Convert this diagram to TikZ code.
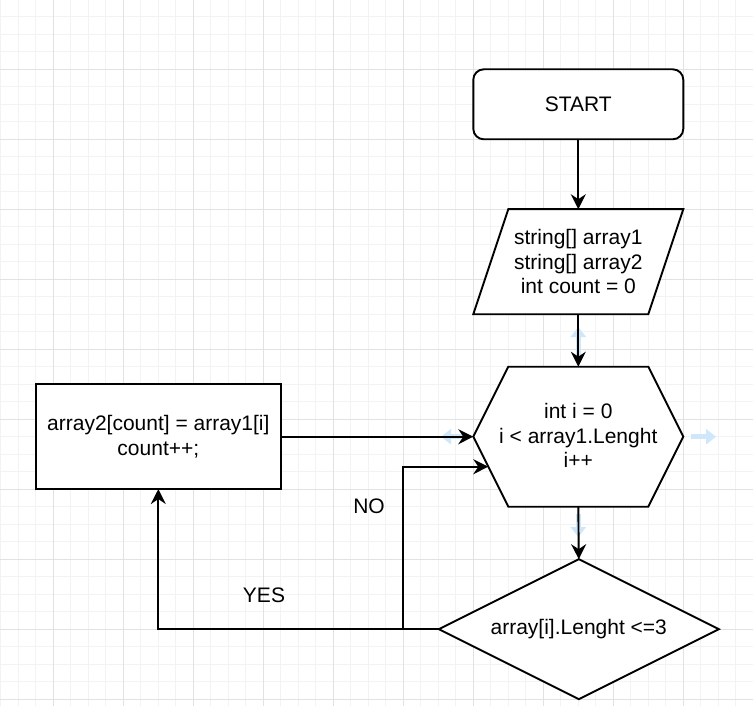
\documentclass[tikz,border=0pt]{standalone}
\usepackage{fontspec}
\setmainfont{Liberation Sans}
\usetikzlibrary{arrows.meta,calc}
\definecolor{gridminor}{RGB}{243,243,243}
\definecolor{gridmajor}{RGB}{226,226,226}
\definecolor{hover}{RGB}{206,232,250}
\begin{document}
\begin{tikzpicture}[x=1pt,y=-1pt,
  txt/.style={font=\fontsize{21}{24.5}\selectfont, align=center, inner sep=0pt, outer sep=0pt},
  shapeline/.style={line width=1.9pt, black},
  boxnode/.style={txt, draw, line width=1.9pt},
  ghost/.style={txt, draw=none},
  conn/.style={line width=1.9pt, black, -{Stealth[length=15pt,width=15pt,inset=5pt]}},
  hoverarrow/.style={line width=5pt, hover, -{Triangle[length=10pt,width=15pt]}},
  lbl/.style={txt}
]
\useasboundingbox (0,0) rectangle (753,706);
\fill[white] (0,0) rectangle (753,706);
% grid
\foreach \i in {0,...,43} \draw[gridminor, line width=1pt] ({0.8+17.5*\i},0) -- ++(0,706);
\foreach \j in {0,...,41} \draw[gridminor, line width=1pt] (0,{-0.7+17.5*\j}) -- ++(753,0);
\foreach \i in {0,...,11} \draw[gridmajor, line width=1pt] ({-16.7+70*\i},0) -- ++(0,706);
\foreach \j in {0,...,10} \draw[gridmajor, line width=1pt] (0,{-0.7+70*\j}) -- ++(753,0);

% nodes
\node[boxnode, rounded corners=10.5pt, minimum width=210pt, minimum height=70pt, fill=white] (start) at (578.3,104.3) {START};

\node[ghost, minimum width=210pt, minimum height=105pt] (input) at (578.3,261.7) {};
\draw[shapeline, fill=white] ([xshift=35pt]input.north west) -- (input.north east) -- ([xshift=-35pt]input.south east) -- (input.south west) -- cycle;
\node[txt] at (input.center) {string[] array1\\string[] array2\\int count = 0};

\node[ghost, minimum width=210pt, minimum height=140pt] (loop) at (578.3,436.7) {};
\draw[shapeline, fill=white] (loop.west) -- ([xshift=35pt]loop.north west) -- ([xshift=-35pt]loop.north east) -- (loop.east) -- ([xshift=-35pt]loop.south east) -- ([xshift=35pt]loop.south west) -- cycle;
\node[txt] at ([yshift=1pt]loop.center) {int i = 0\\i < array1.Lenght\\i++};

\node[ghost, minimum width=280pt, minimum height=140pt] (cond) at (578.8,629.2) {};
\draw[shapeline, fill=white] (cond.north) -- (cond.east) -- (cond.south) -- (cond.west) -- cycle;
\node[txt] at (cond.center) {array[i].Lenght <=3};

\node[boxnode, minimum width=245.3pt, minimum height=104.7pt, fill=white] (act) at (158.35,436.7) {array2[count] = array1[i]\\count++;};

\coordinate (j) at (403.3,629.2);
\coordinate (noend) at (488.3,466.7);

% hover arrows (faint)
\draw[hoverarrow] (578.3,356) -- (578.3,327);
\draw[hoverarrow] (691,436.7) -- (716,436.7);
\draw[hoverarrow] (466,436.7) -- (441,436.7);
\draw[hoverarrow] (578.3,514) -- (578.3,537);

% connectors
\draw[conn] (start.south) -- (input.north);
\draw[conn] (input.south) -- (loop.north);
\draw[conn] (loop.south) -- (cond.north);
\draw[conn] (act.east) -- (loop.west);
\draw[conn] (cond.west) -| (act.south);
\draw[conn] (j) |- (noend);

% labels
\node[lbl] (yes) at (264,595) {YES};
\node[lbl] (no) at (369,506.7) {NO};
\end{tikzpicture}
\end{document}
